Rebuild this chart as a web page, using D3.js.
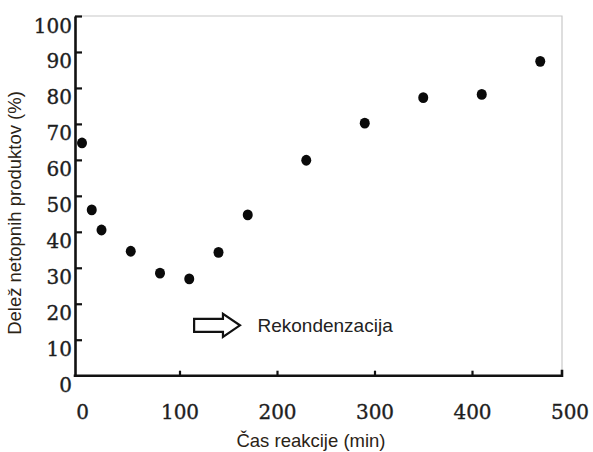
<html>
<head>
<meta charset="utf-8">
<title>Delež netopnih produktov</title>
<script src="https://d3js.org/d3.v7.min.js"></script>
<style>
  body { margin:0; background:#fff; }
  .tick text { font-family:"DejaVu Serif", serif; font-size:20px; fill:#1e1e1e; stroke:#1e1e1e; stroke-width:0.35px; }
  .title { font-family:"Liberation Sans", Arial, sans-serif; font-size:18px; fill:#2b2316; }
</style>
</head>
<body>
<div id="chart"></div>
<script>

// reaction time (min) and share of insoluble products (%)
var times  = [0, 10, 20, 50, 80, 110, 140, 170, 230, 290, 350, 410, 470];
var shares = [64.7, 46.1, 40.5, 34.6, 28.5, 26.9, 34.3, 44.7, 59.9, 70.2, 77.3, 78.2, 87.4];

var xTicks = [0, 100, 200, 300, 400, 500];
var yTicks = [0, 10, 20, 30, 40, 50, 60, 70, 80, 90, 100];

// annotation: arrow from 115 to 162 min at 14 %
var arrowFrom = 115, arrowTo = 162, arrowAt = 14, labelAt = 180;

var W = 593, H = 452;
// plot frame (note: "top" is taken by window.top)
var pLeft = 75, pRight = 562, pTop = 16, pBottom = 375.7;

var svg = d3.select("#chart").append("svg")
            .attr("width", W)
            .attr("height", H);

var x = d3.scaleLinear().domain([0, 500]).range([82, 569.5]);
var y = d3.scaleLinear().domain([0, 100]).range([pBottom, pTop]);

// light frame on top and right
svg.append("path")
   .attr("d", "M" + pLeft + "," + pTop + " H" + pRight + " V" + pBottom)
   .attr("fill", "none")
   .attr("stroke", "#c8c8c8")
   .attr("stroke-width", 1.2);

// y axis
var gy = svg.append("g")
            .attr("transform", "translate(" + pLeft + ",0)")
            .call(d3.axisLeft(y).tickValues(yTicks).tickSize(-7).tickSizeOuter(0).tickPadding(3));
gy.select(".domain").attr("stroke", "#111").attr("stroke-width", 2.6);
gy.selectAll(".tick line").attr("stroke", "#111").attr("stroke-width", 2.2)
  .filter(function(d){ return d == 0 }).remove();
gy.selectAll(".tick text").attr("dy", "0.8em");

// x axis
var gx = svg.append("g")
            .attr("transform", "translate(0," + pBottom + ")")
            .call(d3.axisBottom(x).tickValues(xTicks).tickSize(-5).tickSizeOuter(0).tickPadding(29));
gx.select(".domain").remove();
gx.selectAll(".tick line").attr("stroke", "#111").attr("stroke-width", 2.2)
  .filter(function(d){ return d == 0 || d == 500 }).remove();
gx.append("path")
  .attr("d", "M" + (pLeft - 1.3) + ",0 H" + pRight + " V-6")
  .attr("fill", "none")
  .attr("stroke", "#111")
  .attr("stroke-width", 2.6);

// points
svg.selectAll("ellipse.pt")
   .data(times)
   .enter()
   .append("ellipse")
   .attr("class", "pt")
   .attr("cx", function(d){ return x(d) })
   .attr("cy", function(d, i){ return y(shares[i]) })
   .attr("rx", 5)
   .attr("ry", 5.4)
   .attr("fill", "#0a0a0a");

// arrow annotation
var ax0 = x(arrowFrom), ax1 = x(arrowTo), ay = y(arrowAt), hx = ax1 - 17;
svg.append("path")
   .attr("d", "M" + ax0 + "," + (ay - 6.5) + " H" + hx + " V" + (ay - 11.5) +
              " L" + ax1 + "," + ay + " L" + hx + "," + (ay + 11.5) +
              " V" + (ay + 6.5) + " H" + ax0 + " Z")
   .attr("fill", "#fff")
   .attr("stroke", "#111")
   .attr("stroke-width", 2.2);

svg.append("text")
   .attr("class", "title")
   .attr("x", x(labelAt))
   .attr("y", ay)
   .attr("dy", "0.35em")
   .style("font-size", "19px")
   .style("fill", "#222")
   .text("Rekondenzacija");

// axis titles
svg.append("text")
   .attr("class", "title")
   .attr("x", 311)
   .attr("y", 447)
   .attr("text-anchor", "middle")
   .style("font-size", "18.5px")
   .text("Čas reakcije (min)");

svg.append("text")
   .attr("class", "title")
   .attr("transform", "translate(21,213) rotate(-90)")
   .attr("text-anchor", "middle")
   .style("font-size", "18.5px")
   .text("Delež netopnih produktov (%)");

</script>
</body>
</html>
